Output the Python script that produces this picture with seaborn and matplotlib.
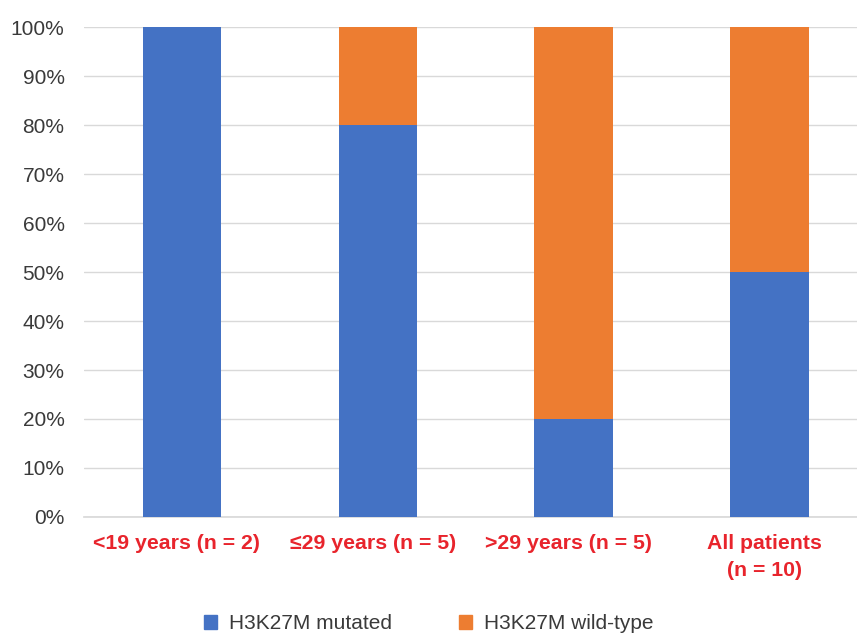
import pandas as pd
import matplotlib.pyplot as plt
from matplotlib.patches import Patch
from matplotlib.transforms import ScaledTranslation
import seaborn as sns

# data
groups = ['<19 years (n = 2)', '\u226429 years (n = 5)', '>29 years (n = 5)', 'All patients\n(n = 10)']
mutated = [100, 80, 20, 50]     # % H3K27M mutated
wild_type = [0, 20, 80, 50]     # % H3K27M wild-type
series_names = ['H3K27M mutated', 'H3K27M wild-type']
colors = ['#4472C4', '#ED7D31']

sns.set_theme(style='white')
plt.rcParams['font.family'] = ['Liberation Sans', 'DejaVu Sans']

df = pd.DataFrame({'group': groups, 'mutated': mutated, 'wild': wild_type})
df['total'] = df['mutated'] + df['wild']

fig = plt.figure(figsize=(8.57, 6.35), dpi=100)
ax = fig.add_axes([0.098, 0.186, 0.914, 0.771])

# stacked bars: full stack in orange, mutated part on top in blue
sns.barplot(data=df, x='group', y='total', color=colors[1], width=0.4, saturation=1,
            linewidth=0, ax=ax, zorder=2)
sns.barplot(data=df, x='group', y='mutated', color=colors[0], width=0.4, saturation=1,
            linewidth=0, ax=ax, zorder=3)

ax.set_ylim(0, 100)
ax.set_yticks(range(0, 101, 10))
ax.set_yticklabels([f'{v}%' for v in range(0, 101, 10)], fontsize=15, color='#3A3A3A')
ax.yaxis.grid(True, color='#D9D9D9', linewidth=1)
ax.set_axisbelow(True)
ax.tick_params(axis='y', length=0, pad=14)
ax.tick_params(axis='x', length=0, pad=12)
shift = ScaledTranslation(-5 / 100, 0, fig.dpi_scale_trans)   # labels sit a bit left of the bars
for lab in ax.get_xticklabels():
    lab.set_fontsize(15.3)
    lab.set_fontweight('bold')
    lab.set_color('#E8242C')
    lab.set_linespacing(1.55)
    lab.set_transform(lab.get_transform() + shift)
ax.set_xlabel('')
ax.set_ylabel('')
for s in ['top', 'right', 'left']:
    ax.spines[s].set_visible(False)
ax.spines['bottom'].set_color('#D9D9D9')

handles = [Patch(color=c) for c in colors]
fig.legend(handles, series_names, loc='lower center', ncol=2, frameon=False,
           fontsize=15, bbox_to_anchor=(0.5, -0.027), handlelength=0.65, handleheight=0.65,
           handletextpad=0.55, columnspacing=3.2, labelcolor='#3A3A3A')

fig.savefig('out.png', dpi=100)
